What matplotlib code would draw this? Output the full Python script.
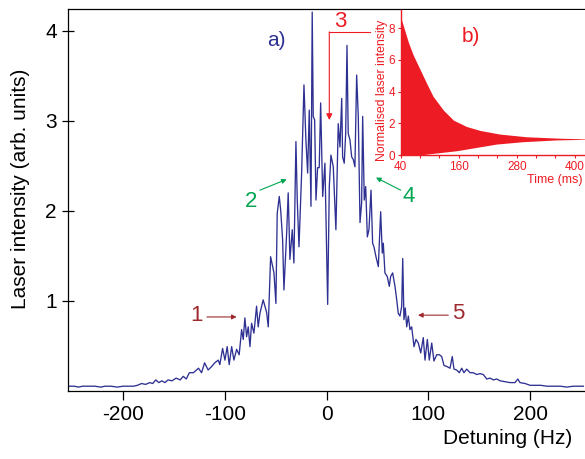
import matplotlib
matplotlib.use("Agg")
import matplotlib.pyplot as plt
import numpy as np

plt.rcParams['font.family'] = ['Liberation Sans', 'DejaVu Sans']
plt.rcParams['axes.unicode_minus'] = False

# ---------------- data ----------------
detuning = [-253, -248, -244, -240, -236, -228, -222, -218, -212, -206, -200, -196,
            -190, -186, -182, -178, -174, -171, -168, -165, -162, -159, -156, -152,
            -148, -144, -141, -138, -135,
            -131, -126, -123, -120, -116.5, -113, -110, -106.6, -105, -102.3, -100,
            -97.8, -95.8, -93.4, -91.2, -88.5, -86, -83.6, -82, -80.4, -78.7, -77.1,
            -75.4, -73.8, -71.5, -68.9, -67.3, -65.6,
            -62.4, -59, -57.4, -55.1, -53.1, -51.8, -49.9, -48.6, -46.6, -45.2, -43.3,
            -42, -39.3, -37.8, -36.1, -33.8, -32.2, -30.2, -28.9, -27.2, -24.6, -22.3,
            -20.4, -18.7, -17.1, -15.4, -14.2, -13.2, -11.8, -10.5, -8.9, -7.3, -5.9,
            -3.9, -1.7, 1, 2.6, 4.2, 6.5, 9.1, 11.4, 13.1, 14.8, 15.7, 17.3, 18.7, 20,
            21.2, 22.9, 24.6, 26.2, 27.8, 29.5, 31.1, 32.8, 34.4, 35.4, 37, 38.4, 40,
            41.6, 43.6, 45.2, 46.5, 48.5, 50.8, 53.1, 54.7, 55.7, 57.3, 59.6, 61.6,
            62.9, 64.9, 67.2, 68.9, 70.4, 72.1, 73.8, 74.8, 76, 77.3, 78.7, 80.3, 81.9,
            83.6, 85.9, 87.8, 90.1, 92.5,
            95, 96.7, 99, 100.9, 103.3, 105.5, 108.2, 110.8, 113.1, 115.4, 118, 121.3,
            123.5, 125.2, 127.9, 130.4, 132.8, 135, 137.7, 141, 144.2, 147.5, 150.8,
            154, 157.4, 160.6, 163.9, 167.2, 170.5, 175.4, 180.3, 185.2, 187.9, 190.1,
            195, 200, 205, 210.5, 216.4, 223, 230, 236, 242.6, 252.4]
intensity = [0.05, 0.05, 0.04, 0.05, 0.05, 0.05, 0.04, 0.05, 0.05, 0.04, 0.05, 0.05,
             0.05, 0.06, 0.08, 0.07, 0.09, 0.08, 0.12, 0.09, 0.11, 0.09, 0.12, 0.11,
             0.14, 0.12, 0.16, 0.13, 0.20,
             0.20, 0.25, 0.20, 0.31, 0.23, 0.27, 0.31, 0.34, 0.29, 0.47, 0.34,
             0.49, 0.29, 0.49, 0.34, 0.46, 0.40, 0.68, 0.57, 0.81, 0.60, 0.71,
             0.49, 0.75, 0.64, 0.94, 0.71, 0.86,
             1.01, 0.87, 0.71, 1.49, 1.38, 1.31, 0.97, 1.97, 2.16, 2.01, 1.68,
             1.12, 1.76, 2.20, 1.46, 1.79, 1.42, 2.77, 2.12, 1.60, 2.42, 3.40,
             2.79, 2.42, 3.12, 2.05, 4.21, 3.05, 3.01, 2.12, 2.48, 2.48, 3.20,
             2.16, 2.53, 0.96, 2.27, 2.62, 2.49, 1.79, 2.97, 2.71, 3.25, 2.60, 2.53, 2.86, 3.84,
             2.86, 2.79, 2.60, 2.57, 2.49, 3.51, 3.05, 1.87, 2.09, 3.05, 2.12, 2.27, 1.71,
             1.79, 2.23, 1.64, 1.60, 1.49, 1.38, 1.99, 1.53, 1.64, 1.31, 1.27, 1.16,
             1.27, 1.31, 1.16, 1.01, 0.86, 0.83, 0.94, 1.47, 0.79, 0.92, 0.71, 0.83, 0.68,
             0.71, 0.49, 0.57, 0.53, 0.42,
             0.59, 0.34, 0.57, 0.34, 0.53, 0.33, 0.40, 0.40, 0.38, 0.28, 0.27, 0.25,
             0.38, 0.24, 0.23, 0.20, 0.25, 0.20, 0.24, 0.20, 0.20, 0.18, 0.19,
             0.18, 0.13, 0.14, 0.12, 0.13, 0.11, 0.10, 0.09, 0.09, 0.13, 0.09,
             0.08, 0.06, 0.06, 0.06, 0.05, 0.05, 0.05, 0.04, 0.05, 0.05]

# inset b): envelope of the decaying oscillation
time_upper = [40, 42, 49, 56, 66, 80, 94, 107, 128, 149, 176, 204, 245, 300, 369, 421]
upper_env = [8.6, 8.5, 7.8, 7.1, 6.3, 5.4, 4.5, 3.7, 2.84, 2.2, 1.8, 1.55, 1.32, 1.15, 1.06, 1.02]
time_lower = [40, 80, 95, 121, 156, 197, 238, 293, 362, 421]
lower_env = [0.0, 0.0, 0.06, 0.15, 0.27, 0.48, 0.69, 0.84, 0.95, 0.99]

xticks_main = [-200, -100, 0, 100, 200]
yticks_main = [1, 2, 3, 4]
inset_xticks = [40, 160, 280, 400]
inset_xminor = [80, 120, 200, 240, 320, 360]
inset_yticks = [0, 2, 4, 6, 8]

NAVY = '#2E3192'
RED = '#ED1C24'
GREEN = '#00A651'
DARKRED = '#9E2A2F'

W, H = 585, 459
fig = plt.figure(figsize=(W / 100, H / 100), dpi=100)

# ---------------- main axes ----------------
ax = fig.add_axes([68.3 / W, 1 - 390.7 / H, (W - 68.3) / W, (390.7 - 8.5) / H])
ax.plot(detuning, intensity, color=NAVY, lw=0.95)
ax.set_xlim(-254, 254)
ax.set_ylim(0, 4.25)
ax.set_xticks(xticks_main)
ax.set_yticks(yticks_main)
ax.spines['right'].set_visible(False)
for s in ['left', 'bottom', 'top']:
    ax.spines[s].set_linewidth(0.9)
ax.tick_params(axis='x', direction='out', length=6.5, width=0.9, pad=3.5, labelsize=15)
ax.tick_params(axis='y', direction='inout', length=8.4, width=0.9, pad=4.0, labelsize=15)

fig.text(572 / W, 1 - 439 / H, 'Detuning (Hz)', ha='right', va='center', fontsize=15)
fig.text(21 / W, 1 - 188.5 / H, 'Laser intensity (arb. units)', ha='center', va='center',
         rotation=90, fontsize=15)

ax.text(-49.2, 3.89, 'a)', color=NAVY, fontsize=15, ha='center', va='center')

# annotations
def arrow(x0, y0, x1, y1, c, lw=0.8, ms=7):
    ax.annotate('', xy=(x1, y1), xytext=(x0, y0),
                arrowprops=dict(arrowstyle='-|>', color=c, lw=lw, mutation_scale=ms,
                                shrinkA=0, shrinkB=0))

ax.text(-127.9, 0.84, '1', color=DARKRED, fontsize=16, ha='center', va='center')
arrow(-117.7, 0.82, -88.5, 0.82, DARKRED)
ax.text(129.6, 0.86, '5', color=DARKRED, fontsize=16, ha='center', va='center')
arrow(119.6, 0.84, 89.8, 0.84, DARKRED)
ax.text(-74.7, 2.10, '2', color=GREEN, fontsize=16, ha='center', va='center')
arrow(-65.6, 2.23, -39.3, 2.35, GREEN)
ax.text(80.7, 2.16, '4', color=GREEN, fontsize=16, ha='center', va='center')
arrow(72.8, 2.23, 48.5, 2.37, GREEN)
ax.text(13.1, 4.10, '3', color=RED, fontsize=16, ha='center', va='center')
ax.plot([42.6, 2.6], [3.99, 3.99], color=RED, lw=0.8)
arrow(2.6, 3.99, 2.6, 3.01, RED, ms=9)

# ---------------- inset ----------------
axin = fig.add_axes([400.7 / W, 1 - 155 / H, (W - 400.7) / W, (155 - 10) / H])
axin.set_facecolor('white')
tgrid = np.union1d(time_upper, time_lower)
up = np.interp(tgrid, time_upper, upper_env)
lo = np.interp(tgrid, time_lower, lower_env)
axin.fill_between(tgrid, lo, up, color=RED, lw=0)
axin.set_xlim(40, 421)
axin.set_ylim(0, 9.15)
axin.set_xticks(inset_xticks)
axin.set_xticks(inset_xminor, minor=True)
axin.set_yticks(inset_yticks)
for s in ['top', 'right']:
    axin.spines[s].set_visible(False)
for s in ['left', 'bottom']:
    axin.spines[s].set_color(RED)
    axin.spines[s].set_linewidth(1.0)
axin.tick_params(axis='both', which='both', colors=RED, labelcolor=RED, length=2.5,
                 width=0.8, labelsize=8.5, pad=1.5)
axin.tick_params(axis='x', which='minor', length=2.5)
fig.text(554.5 / W, 1 - 180 / H, 'Time (ms)', color=RED, fontsize=9, ha='center', va='center')
fig.text(382 / W, 1 - 90 / H, 'Normalised laser intensity', color=RED, fontsize=8.8,
         ha='center', va='center', rotation=90)
axin.text(184.9, 7.46, 'b)', color=RED, fontsize=15, ha='center', va='center')

fig.savefig('out.png', dpi=100)
